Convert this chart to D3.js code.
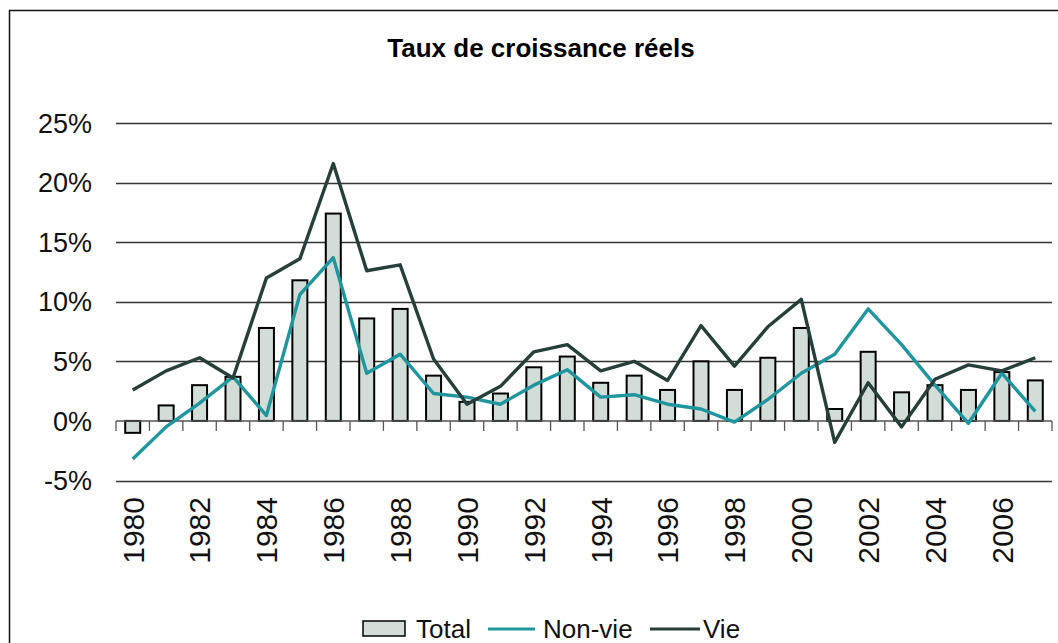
<!DOCTYPE html>
<html>
<head>
<meta charset="utf-8">
<script src="https://cdn.jsdelivr.net/npm/d3@7"></script>
<style>
body { margin: 0; background: #fff; }
text { font-family: "Liberation Sans", Arial, sans-serif; }
</style>
</head>
<body>
<script>
// data
var years = d3.range(1980, 2008);
var total = [-1.0, 1.3, 3.0, 3.7, 7.8, 11.8, 17.4, 8.6, 9.4, 3.8,
             1.6, 2.3, 4.5, 5.4, 3.2, 3.8, 2.6, 5.0, 2.6, 5.3,
             7.8, 1.0, 5.8, 2.4, 3.0, 2.6, 4.1, 3.4];
var nonVie = [-3.2, -0.5, 1.5, 3.7, 0.45, 10.6, 13.7, 4.0, 5.6, 2.3,
              2.0, 1.4, 3.0, 4.3, 2.0, 2.2, 1.4, 1.0, -0.1, 1.8,
              4.0, 5.6, 9.4, 6.4, 3.0, -0.2, 4.0, 0.8];
var vie = [2.6, 4.2, 5.3, 3.6, 12.0, 13.6, 21.6, 12.6, 13.1, 5.2,
           1.4, 2.9, 5.8, 6.4, 4.2, 5.0, 3.4, 8.0, 4.6, 7.9,
           10.2, -1.8, 3.2, -0.5, 3.5, 4.7, 4.2, 5.3];
var yTicks = [-5, 0, 5, 10, 15, 20, 25];
var xLabels = years.filter(function(d){ return d % 2 == 0; });

var W = 1058, H = 643;

var svg = d3.select("body").append("svg")
    .attr("width", W)
    .attr("height", H);

// outer frame (only left and top are visible in the picture)
svg.append("path")
    .attr("d", "M9.5,643 V10.5 H1058")
    .attr("fill", "none")
    .attr("stroke", "#111")
    .attr("stroke-width", 1.5);

// title
svg.append("text")
    .text("Taux de croissance réels")
    .attr("x", 541)
    .attr("y", 57)
    .attr("text-anchor", "middle")
    .attr("font-size", 26)
    .attr("font-weight", "bold");

// scales
var x = d3.scaleBand()
    .domain(years)
    .range([116, 1052])
    .paddingInner(0)
    .paddingOuter(0);

var y = d3.scaleLinear()
    .domain([-5, 25])
    .range([480.5, 123]);

var xc = function(d){ return x(d) + x.bandwidth() / 2; };

// gridlines
svg.append("g").selectAll("line").data(yTicks.filter(function(d){ return d != 0; })).enter()
    .append("line")
    .attr("x1", 116)
    .attr("x2", 1052)
    .attr("y1", function(d){ return Math.round(y(d)) + 0.5; })
    .attr("y2", function(d){ return Math.round(y(d)) + 0.5; })
    .attr("stroke", "#333")
    .attr("stroke-width", 1.3);

// y tick labels
svg.append("g").selectAll("text").data(yTicks).enter()
    .append("text")
    .text(function(d){ return d + "%"; })
    .attr("x", 92)
    .attr("y", function(d){ return y(d); })
    .attr("dy", "0.36em")
    .attr("text-anchor", "end")
    .attr("font-size", 27)
    .attr("fill", "#111");

// bars (Total)
var barW = 15;
svg.append("g").selectAll("rect").data(total).enter()
    .append("rect")
    .attr("x", function(d, i){ return xc(years[i]) - barW / 2; })
    .attr("width", barW)
    .attr("y", function(d){ return y(Math.max(0, d)); })
    .attr("height", function(d){ return Math.abs(y(d) - y(0)); })
    .attr("fill", "#d3ddd7")
    .attr("stroke", "#000")
    .attr("stroke-width", 2);

// x axis with ticks between categories
var axis = svg.append("g");
axis.append("line")
    .attr("x1", 116).attr("x2", 1052)
    .attr("y1", y(0)).attr("y2", y(0))
    .attr("stroke", "#555")
    .attr("stroke-width", 1.5);
axis.selectAll(".tk").data(years.concat([2008])).enter()
    .append("line")
    .attr("class", "tk")
    .attr("x1", function(d, i){ return 116 + i * x.bandwidth(); })
    .attr("x2", function(d, i){ return 116 + i * x.bandwidth(); })
    .attr("y1", y(0))
    .attr("y2", y(0) + 10)
    .attr("stroke", "#555")
    .attr("stroke-width", 1.3);

// x labels, rotated
svg.append("g").selectAll("text").data(xLabels).enter()
    .append("text")
    .text(function(d){ return d; })
    .attr("transform", function(d){ return "translate(" + xc(d) + ",497) rotate(-90)"; })
    .attr("dy", "0.36em")
    .attr("text-anchor", "end")
    .attr("font-size", 30)
    .attr("fill", "#111");

// lines
var line = d3.line()
    .x(function(d, i){ return xc(years[i]); })
    .y(function(d){ return y(d); });

svg.append("path")
    .datum(nonVie)
    .attr("d", line)
    .attr("fill", "none")
    .attr("stroke", "#1f959e")
    .attr("stroke-width", 3.4)
    .attr("stroke-linejoin", "round");

svg.append("path")
    .datum(vie)
    .attr("d", line)
    .attr("fill", "none")
    .attr("stroke", "#263f3a")
    .attr("stroke-width", 3.4)
    .attr("stroke-linejoin", "round");

// legend
var legend = svg.append("g");
legend.append("rect")
    .attr("x", 363).attr("y", 621)
    .attr("width", 42).attr("height", 15)
    .attr("fill", "#d3ddd7")
    .attr("stroke", "#000")
    .attr("stroke-width", 1.5);
legend.append("text").text("Total")
    .attr("x", 416).attr("y", 638)
    .attr("font-size", 26).attr("fill", "#111");
legend.append("line")
    .attr("x1", 488).attr("x2", 535)
    .attr("y1", 629).attr("y2", 629)
    .attr("stroke", "#1f959e").attr("stroke-width", 3);
legend.append("text").text("Non-vie")
    .attr("x", 543).attr("y", 638)
    .attr("font-size", 26).attr("fill", "#111");
legend.append("line")
    .attr("x1", 650).attr("x2", 700)
    .attr("y1", 629).attr("y2", 629)
    .attr("stroke", "#263f3a").attr("stroke-width", 3);
legend.append("text").text("Vie")
    .attr("x", 703).attr("y", 638)
    .attr("font-size", 26).attr("fill", "#111");
</script>
</body>
</html>
